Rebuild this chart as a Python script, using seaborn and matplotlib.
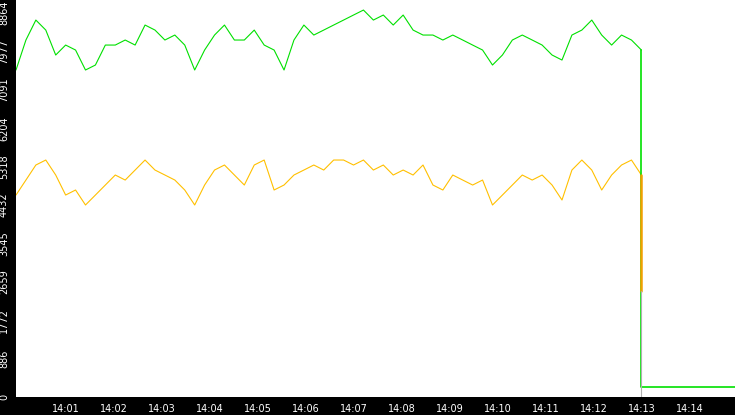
import numpy as np
import matplotlib
matplotlib.use("Agg")
import matplotlib.pyplot as plt
import seaborn as sns

# values (minutes after 14:00)
green_vals = [7548, 8240, 8701, 8470, 7894, 8124, 8009, 7548, 7663, 8124, 8124, 8240,
              8124, 8586, 8470, 8240, 8355, 8124, 7548, 8009, 8355, 8586, 8240, 8240,
              8470, 8124, 8009, 7548, 8240, 8586, 8355, 8470, 8586, 8701, 8817, 8932,
              8701, 8817, 8586, 8817, 8470, 8355, 8355, 8240, 8355, 8240, 8124, 8009,
              7663, 7894, 8240, 8355, 8240, 8124, 7894, 7778, 8355, 8470, 8701, 8355,
              8124, 8355, 8240, 8009]
orange_vals = [4662, 5008, 5355, 5470, 5124, 4662, 4778, 4432, 4662, 4893, 5124, 5008,
               5239, 5470, 5239, 5124, 5008, 4778, 4432, 4893, 5239, 5355, 5124, 4893,
               5355, 5470, 4778, 4893, 5124, 5239, 5355, 5239, 5470, 5470, 5355, 5470,
               5239, 5355, 5124, 5239, 5124, 5355, 4893, 4778, 5124, 5008, 4893, 5008,
               4432, 4662, 4893, 5124, 5008, 5124, 4893, 4547, 5239, 5470, 5239, 4778,
               5124, 5355, 5470, 5124]
times = np.linspace(-0.04, 12.99, len(green_vals))
end_t = 12.99
green_tail_t = [end_t, end_t, 14.94]
green_tail_v = [green_vals[-1], 230, 230]
orange_tail_t = [end_t, end_t]
orange_tail_v = [orange_vals[-1], 2450]
gray_t = [end_t, end_t]
gray_v = [2450, 0]
yticks = [0, 886, 1772, 2659, 3545, 4432, 5318, 6204, 7091, 7977, 8864]
xticks = list(range(1, 15))
xlabels = [f"14:{m:02d}" for m in xticks]

sns.set_style("white")
fig = plt.figure(figsize=(7.35, 4.15), dpi=100, facecolor="black")
ax = fig.add_axes([16 / 735, 18 / 415, 1 - 16 / 735, 1 - 18 / 415])
ax.set_facecolor("white")

sns.lineplot(x=times, y=green_vals, ax=ax, color="#00e000", lw=0.8)
sns.lineplot(x=times, y=orange_vals, ax=ax, color="#ffc000", lw=0.8)
ax.plot(green_tail_t, green_tail_v, color="#00e000", lw=1.2)
ax.plot(orange_tail_t, orange_tail_v, color="#f0a000", lw=1.8)
ax.plot(gray_t, gray_v, color="#b0b0b0", lw=0.8)

ax.set_xlim(-0.04, 14.94)
ax.set_ylim(0, 9164)
ax.set_yticks(yticks)
ax.set_yticklabels([str(v) for v in yticks], rotation=90, va="center",
                   color="white", fontsize=7)
ax.set_xticks(xticks)
ax.set_xticklabels(xlabels, color="white", fontsize=7)
ax.tick_params(axis="both", length=3, color="white", pad=2)
for s in ax.spines.values():
    s.set_visible(False)

fig.savefig("out.png", dpi=100, facecolor="black")
